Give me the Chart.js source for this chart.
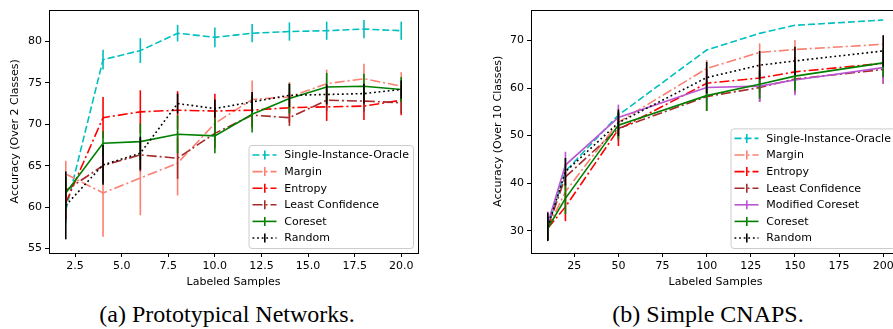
<!DOCTYPE html>
<html>
<head>
<meta charset="utf-8">
<script src="https://cdn.jsdelivr.net/npm/chart.js@4.4.1/dist/chart.umd.min.js"></script>
<style>
html, body { margin: 0; padding: 0; background: #fff; overflow: hidden; }
#page { position: relative; width: 893px; height: 329px; overflow: hidden; }
#wrapA { position: absolute; left: 0; top: 0; }
#wrapB { position: absolute; left: 450px; top: 0; }
.cap { position: absolute; top: 302px; font-family: "Liberation Serif", "Times New Roman", serif;
       font-size: 24px; line-height: 24px; white-space: nowrap; transform: translateX(-50%); color: #000; }
</style>
</head>
<body>
<div id="page">
  <div id="wrapA"><canvas id="chartA" width="440" height="295"></canvas></div>
  <div id="wrapB"><canvas id="chartB" width="470" height="295"></canvas></div>
  <div class="cap" style="left:227px">(a) Prototypical Networks.</div>
  <div class="cap" style="left:708px">(b) Simple CNAPS.</div>
</div>
<script>
// (a) Prototypical Networks, accuracy over 2 classes
const xA = [2, 4, 6, 8, 10, 12, 14, 16, 18, 20];
const oracleA = [59.6, 77.8, 78.9, 81.0, 80.5, 81.0, 81.2, 81.3, 81.5, 81.3];
const oracleErrA = [1.5, 1.2, 1.5, 1.0, 1.2, 1.1, 1.1, 1.1, 1.1, 1.1];
const marginA = [64.0, 61.7, 63.5, 65.3, 70.1, 73.0, 73.3, 74.9, 75.5, 74.6];
const marginErrA = [1.6, 5.3, 4.5, 3.9, 2.5, 2.3, 1.8, 1.7, 1.8, 1.7];
const entropyA = [60.5, 70.8, 71.5, 71.7, 71.6, 71.7, 72.0, 72.1, 72.2, 72.9];
const entropyErrA = [2.0, 2.5, 2.6, 2.3, 2.1, 2.0, 1.8, 1.7, 1.7, 1.8];
const leastA = [62.0, 65.0, 66.3, 65.9, 68.9, 71.1, 70.8, 72.9, 72.8, 72.6];
const leastErrA = [1.5, 2.0, 2.0, 2.5, 1.8, 1.5, 1.0, 1.3, 1.3, 1.3];
const coresetA = [61.7, 67.7, 67.9, 68.8, 68.6, 71.2, 73.1, 74.5, 74.6, 74.2];
const coresetErrA = [2.0, 1.5, 2.2, 2.3, 2.1, 2.2, 1.8, 1.7, 1.5, 1.5];
const randomA = [60.2, 65.1, 66.5, 72.5, 71.9, 72.7, 73.5, 73.6, 73.7, 74.2];
const randomErrA = [4.1, 2.4, 2.0, 1.2, 1.1, 1.2, 1.4, 1.2, 1.2, 1.1];
const xTicksA = [2.5, 5, 7.5, 10, 12.5, 15, 17.5, 20];
const yTicksA = [55, 60, 65, 70, 75, 80];

// (b) Simple CNAPS, accuracy over 10 classes
const xB = [10, 20, 50, 100, 130, 150, 200];
const oracleB = [30.8, 42.5, 54.3, 68.0, 71.5, 73.2, 74.3];
const oracleErrB = [0, 0, 0, 0, 0, 0, 0];
const marginB = [30.5, 38.2, 52.8, 64.1, 67.5, 68.1, 69.2];
const marginErrB = [2.5, 3.0, 2.5, 1.8, 1.9, 2.0, 1.9];
const entropyB = [30.5, 35.0, 51.3, 61.0, 62.1, 63.4, 65.2];
const entropyErrB = [2.5, 3.0, 3.5, 3.0, 3.0, 3.0, 3.0];
const leastB = [30.6, 41.3, 51.5, 58.2, 60.1, 61.9, 63.9];
const leastErrB = [2.5, 2.8, 2.5, 3.0, 3.0, 3.0, 3.0];
const modifiedB = [31.5, 43.8, 53.8, 60.1, 60.4, 61.7, 64.3];
const modifiedErrB = [2.5, 2.8, 2.7, 3.0, 3.3, 3.2, 3.3];
const coresetB = [30.5, 36.8, 52.2, 58.4, 60.8, 62.5, 65.3];
const coresetErrB = [2.5, 3.3, 2.8, 3.2, 3.0, 3.0, 3.0];
const randomB = [30.8, 42.4, 52.7, 62.2, 64.8, 65.7, 67.8];
const randomErrB = [3.0, 2.9, 2.8, 3.3, 3.0, 3.0, 3.3];
const xTicksB = [25, 50, 75, 100, 125, 150, 175, 200];
const yTicksB = [30, 40, 50, 60, 70];

const FONT = { family: 'DejaVu Sans', size: 11 };
const DASHED = [7, 3];
const DASHDOT = [10, 3, 2, 3];
const DOTTED = [1.8, 2.8];

// vertical error bars, drawn under each dataset's line
const errorBars = {
    id: 'errorBars',
    beforeDatasetDraw(chart, args) {
        const ds = chart.data.datasets[args.index];
        if (!ds.errors) return;
        const ctx = chart.ctx;
        const xs = chart.scales.x, ys = chart.scales.y;
        ctx.save();
        ctx.strokeStyle = ds.borderColor;
        ctx.lineWidth = 1.6;
        ctx.setLineDash([]);
        ds.data.forEach((p, i) => {
            const e = ds.errors[i];
            if (!e) return;
            const px = xs.getPixelForValue(p.x);
            ctx.beginPath();
            ctx.moveTo(px, ys.getPixelForValue(p.y - e));
            ctx.lineTo(px, ys.getPixelForValue(p.y + e));
            ctx.stroke();
        });
        ctx.restore();
    }
};

// box round the plot and legend in the lower right corner
const frameLegend = {
    id: 'frameLegend',
    afterDraw(chart) {
        const ctx = chart.ctx;
        const a = chart.chartArea;
        ctx.save();
        ctx.strokeStyle = '#000';
        ctx.lineWidth = 1;
        ctx.setLineDash([]);
        ctx.strokeRect(Math.round(a.left) + 0.5, Math.round(a.top) + 0.5,
            Math.round(a.right - a.left), Math.round(a.bottom - a.top));

        const sets = chart.data.datasets;
        const rowH = 16.6;
        const h = 20 + (sets.length - 1) * rowH;
        const w = 164.5;
        const x0 = a.right - 5 - w;
        const y0 = a.bottom - 5 - h;
        ctx.beginPath();
        ctx.roundRect(x0 + 0.5, y0 + 0.5, w, h, 3);
        ctx.fillStyle = 'rgba(255,255,255,0.8)';
        ctx.fill();
        ctx.strokeStyle = '#cccccc';
        ctx.stroke();

        ctx.font = '11px "DejaVu Sans"';
        ctx.textBaseline = 'middle';
        ctx.textAlign = 'left';
        sets.forEach((ds, i) => {
            const cy = y0 + 10 + i * rowH;
            ctx.strokeStyle = ds.borderColor;
            ctx.lineWidth = 1.6;
            ctx.setLineDash(ds.borderDash || []);
            ctx.beginPath();
            ctx.moveTo(x0 + 4, cy);
            ctx.lineTo(x0 + 28, cy);
            ctx.stroke();
            ctx.setLineDash([]);
            ctx.beginPath();
            ctx.moveTo(x0 + 16.3, cy - 4.5);
            ctx.lineTo(x0 + 16.3, cy + 4.5);
            ctx.stroke();
            ctx.fillStyle = '#000';
            ctx.fillText(ds.label, x0 + 35.8, cy + 0.5);
        });
        ctx.restore();
    }
};

function makeSet(label, xs, ys, errs, color, dash, i) {
    return {
        label: label,
        data: xs.map((x, k) => ({ x: x, y: ys[k] })),
        errors: errs,
        borderColor: color,
        borderWidth: 1.6,
        borderDash: dash,
        pointRadius: 0,
        fill: false,
        tension: 0,
        order: -i
    };
}

function makeChart(id, sets, o) {
    return new Chart(document.getElementById(id), {
        type: 'line',
        data: { datasets: sets },
        options: {
            responsive: false,
            animation: false,
            layout: { padding: { left: 0, top: 9, right: o.padRight, bottom: 0 } },
            plugins: { legend: { display: false }, tooltip: { enabled: false } },
            scales: {
                x: {
                    type: 'linear',
                    min: o.xMin, max: o.xMax,
                    afterBuildTicks: s => { s.ticks = o.xTicks.map(v => ({ value: v })); },
                    afterFit: s => { s.height = 42; },
                    ticks: { callback: o.xFmt, font: FONT, color: '#000', padding: 3, maxRotation: 0, autoSkip: false },
                    grid: { display: true, drawOnChartArea: false, drawTicks: true, tickLength: 4, color: '#000' },
                    border: { display: false },
                    title: { display: true, text: 'Labeled Samples', font: FONT, color: '#000', padding: { top: 0, bottom: 6.7 } }
                },
                y: {
                    min: o.yMin, max: o.yMax,
                    afterBuildTicks: s => { s.ticks = o.yTicks.map(v => ({ value: v })); },
                    afterFit: s => { s.width = o.yWidth; },
                    ticks: { font: FONT, color: '#000', padding: 3, autoSkip: false },
                    grid: { display: true, drawOnChartArea: false, drawTicks: true, tickLength: 4, color: '#000' },
                    border: { display: false },
                    title: { display: true, text: o.yTitle, font: FONT, color: '#000', padding: { top: o.yTitlePad, bottom: 0 } }
                }
            }
        },
        plugins: [errorBars, frameLegend]
    });
}

makeChart('chartA', [
    makeSet('Single-Instance-Oracle', xA, oracleA, oracleErrA, '#00bfbf', DASHED, 0),
    makeSet('Margin', xA, marginA, marginErrA, '#fa8072', DASHDOT, 1),
    makeSet('Entropy', xA, entropyA, entropyErrA, '#ff0000', DASHDOT, 2),
    makeSet('Least Confidence', xA, leastA, leastErrA, '#a52a2a', DASHDOT, 3),
    makeSet('Coreset', xA, coresetA, coresetErrA, '#008000', [], 4),
    makeSet('Random', xA, randomA, randomErrA, '#000000', DOTTED, 5)
], {
    xMin: 1.1, xMax: 20.9, yMin: 54.45, yMax: 83.85,
    xTicks: xTicksA, yTicks: yTicksA, xFmt: v => v.toFixed(1),
    padRight: 22, yWidth: 49, yTitle: 'Accuracy (Over 2 Classes)', yTitlePad: 9
});

makeChart('chartB', [
    makeSet('Single-Instance-Oracle', xB, oracleB, oracleErrB, '#00bfbf', DASHED, 0),
    makeSet('Margin', xB, marginB, marginErrB, '#fa8072', DASHDOT, 1),
    makeSet('Entropy', xB, entropyB, entropyErrB, '#ff0000', DASHDOT, 2),
    makeSet('Least Confidence', xB, leastB, leastErrB, '#a52a2a', DASHDOT, 3),
    makeSet('Modified Coreset', xB, modifiedB, modifiedErrB, '#ba55d3', [], 4),
    makeSet('Coreset', xB, coresetB, coresetErrB, '#008000', [], 5),
    makeSet('Random', xB, randomB, randomErrB, '#000000', DOTTED, 6)
], {
    xMin: 0.5, xMax: 209.5, yMin: 25.3, yMax: 76.5,
    xTicks: xTicksB, yTicks: yTicksB, xFmt: v => String(v),
    padRight: 20, yWidth: 81, yTitle: 'Accuracy (Over 10 Classes)', yTitlePad: 41.7
});
</script>
</body>
</html>
